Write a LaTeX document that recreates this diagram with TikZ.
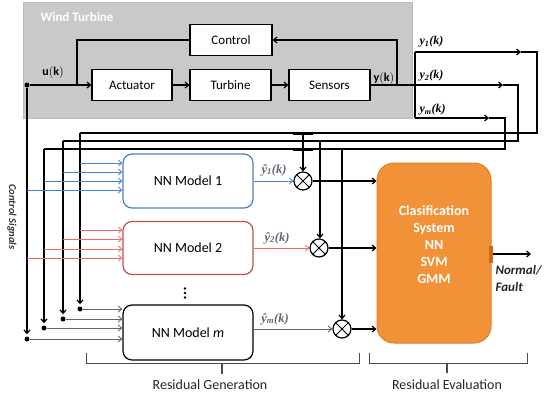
\documentclass[tikz,border=0pt]{standalone}
\usepackage{fontspec}
\setmainfont{Carlito}
\newfontfamily\tms{Liberation Serif}
\usetikzlibrary{arrows.meta,calc}
\definecolor{bbord}{RGB}{79,129,189}
\definecolor{bline}{RGB}{70,130,205}
\definecolor{rbord}{RGB}{192,80,77}
\definecolor{rline}{RGB}{240,105,105}
\definecolor{orfill}{RGB}{242,146,56}
\definecolor{ordraw}{RGB}{222,125,40}
\definecolor{ortab}{RGB}{200,105,30}
\definecolor{hatc}{RGB}{95,100,112}
\begin{document}
\begin{tikzpicture}[x=1pt,y=-1pt,
  wire/.style={line width=1.2pt, black},
  gwire/.style={line width=0.9pt, gray!80!black},
  bwire/.style={line width=0.8pt, bline},
  rwire/.style={line width=0.8pt, rline},
  arr/.style={-{Straight Barb[length=3.5pt,width=6pt]}},
  box/.style={draw, line width=1.2pt, fill=white, minimum height=31pt, inner sep=0, font=\fontsize{13}{15}\selectfont},
  nnbox/.style={draw, line width=1.2pt, fill=white, rounded corners=9pt, minimum width=130pt, inner sep=0, font=\fontsize{14}{16}\selectfont},
  dotn/.style={circle, fill=black, minimum size=5pt, inner sep=0},
  mult/.style={circle, draw, line width=1.2pt, minimum size=18pt, inner sep=0, fill=white,
    path picture={\draw[line width=1pt] (path picture bounding box.south west) -- (path picture bounding box.north east) (path picture bounding box.north west) -- (path picture bounding box.south east);}},
  yl/.style={anchor=west, font=\tms\bfseries\itshape\fontsize{12}{14}\selectfont},
  hl/.style={text=hatc, font=\tms\bfseries\itshape\fontsize{12.5}{14}\selectfont},
  brk/.style={line width=0.8pt, gray!60!black},
  lab/.style={font=\fontsize{14}{16}\selectfont, text=black!85}
]
\useasboundingbox (0,0) rectangle (544,400);

% wind turbine box
\node[draw=gray!55, fill=gray!42, minimum width=389pt, minimum height=116pt, anchor=north west, inner sep=0] (wt) at (23,2) {};
\node[anchor=west, text=white, font=\bfseries\fontsize{13}{15}\selectfont] (wtl) at (37,17) {Wind Turbine};

\node[box, minimum width=82pt] (ctrl) at (231,40) {Control};
\node[box, minimum width=80pt] (act) at (132,85) {Actuator};
\node[box, minimum width=81pt] (turb) at (230.5,85) {Turbine};
\node[box, minimum width=81pt] (sens) at (329.5,85) {Sensors};

\node[font=\fontsize{12}{14}\selectfont] (uk) at (53,72) {$\mathbf{u(k)}$};
\node[font=\fontsize{12}{14}\selectfont] (yk) at (384,78) {$\mathbf{y(k)}$};

\node[dotn] (ud) at (27,85) {};
\coordinate (cj) at (77,85);
\draw[wire] (ctrl.west) -| (cj);
\draw[wire,arr] (ud) -- (act.west);
\draw[wire,arr] (act.east) -- (turb.west);
\draw[wire,arr] (turb.east) -- (sens.west);
\coordinate (yo) at (415,85);
\draw[wire] (sens.east) -- (yo);
\coordinate (fb) at (397,85);
\coordinate (fbt) at (397,50);
\draw[wire,arr] (fb) |- (ctrl.east);
\draw[line width=2.4pt] (fb) -- (fbt);

% output bus
\coordinate (y1s) at (415,52);
\coordinate (yms) at (415,118);
\draw[wire] (y1s) -- (yms);

\node[yl] (y1l) at (416,42) {y\textsubscript{1}(k)};
\node[yl] (y2l) at (416,76) {y\textsubscript{2}(k)};
\node[yl] (yml) at (416,110) {y\textsubscript{m}(k)};

% y1 route
\coordinate (y1a) at (521,52);
\coordinate (y1r) at (537,52);
\coordinate (y1c) at (80,133);
\node[dotn] (d1) at (80,309) {};
\draw[wire,arr] (y1s) -- (y1a);
\draw[wire] (y1a) -- (y1r) |- (y1c);
\draw[wire,arr,shorten >=2pt] (y1c) -- (d1);

% y2 route
\coordinate (y2a) at (503,85);
\coordinate (y2r) at (518,85);
\coordinate (y2c) at (63,141);
\node[dotn] (d2) at (63,319) {};
\draw[wire,arr] (yo) -- (y2a);
\draw[wire] (y2a) -- (y2r) |- (y2c);
\draw[wire,arr,shorten >=2pt] (y2c) -- (d2);

% ym route
\coordinate (yma) at (489,118);
\coordinate (ymr) at (505,118);
\coordinate (ymc) at (44,149);
\node[dotn] (dm) at (44,328) {};
\draw[wire,arr] (yms) -- (yma);
\draw[wire] (yma) -- (ymr) |- (ymc);
\draw[wire,arr,shorten >=2pt] (ymc) -- (dm);

% control signals
\node[dotn] (dc) at (27,339) {};
\draw[wire,arr,shorten >=2pt] (ud) -- (dc);
\node[rotate=-90, font=\bfseries\itshape\fontsize{10.5}{12}\selectfont, text=black!80] (cs) at (12,217) {Control Signals};

% NN models
\node[nnbox, draw=bbord, minimum height=54pt] (nn1) at (188,181) {NN Model 1};
\node[nnbox, draw=rbord, minimum height=53pt] (nn2) at (188,248) {NN Model 2};
\node[nnbox, draw=black, minimum height=55pt] (nnm) at (188,332.5) {NN Model \textit{m}};
\fill (185,288.5) circle (1.4pt) (185,293) circle (1.4pt) (185,297.5) circle (1.4pt);

% inputs NN1 (blue)
\draw[bwire,arr] (y1c |- 0,163) -- (nn1.west |- 0,163);
\draw[bwire,arr] (y2c |- 0,172) -- (nn1.west |- 0,172);
\draw[bwire,arr] (ymc |- 0,181) -- (nn1.west |- 0,181);
\draw[bwire,arr] (ud |- 0,190) -- (nn1.west |- 0,190);
% inputs NN2 (red)
\draw[rwire,arr] (y1c |- 0,230) -- (nn2.west |- 0,230);
\draw[rwire,arr] (y2c |- 0,239) -- (nn2.west |- 0,239);
\draw[rwire,arr] (ymc |- 0,249) -- (nn2.west |- 0,249);
\draw[rwire,arr] (ud |- 0,258) -- (nn2.west |- 0,258);
% inputs NNm (gray)
\draw[gwire,arr] (d1) -- (d1 -| nnm.west);
\draw[gwire,arr] (d2) -- (d2 -| nnm.west);
\draw[gwire,arr] (dm) -- (dm -| nnm.west);
\draw[gwire,arr] (dc) -- (dc -| nnm.west);

% multipliers
\node[mult] (x1) at (303,181) {};
\node[mult] (x2) at (319,248) {};
\node[mult] (xm) at (342,329) {};

\draw[bwire,arr] (nn1.east |- x1) -- (x1.west);
\draw[rwire,arr] (nn2.east |- x2) -- (x2.west);
\draw[gwire,arr] (nnm.east |- xm) -- (xm.west);

\node[hl] (h1) at (274,170) {ŷ\textsubscript{1}(k)};
\node[hl] (h2) at (277,238) {ŷ\textsubscript{2}(k)};
\node[hl] (hm) at (275,319) {ŷ\textsubscript{m}(k)};

% droppers
\coordinate (t1) at (303,133);
\coordinate (t2) at (320,141);
\coordinate (tm) at (342,149);
\draw[wire,arr] (t1) -- (x1.north);
\draw[wire,arr] (t2) -- (t2 |- x2.north);
\draw[wire,arr] (tm) -- (xm.north);
\draw[line width=3pt] (293,133) -- (313,133);
\draw[line width=3pt] (293,149) -- (313,149);

% classifier
\node[draw=ordraw, fill=orfill, line width=1pt, rounded corners=17pt, minimum width=114pt, minimum height=180pt, inner sep=0] (cls) at (434,253) {};
\node[text=white, align=center, font=\bfseries\fontsize{14}{17}\selectfont] (clst) at (434,245) {Clasification\\System\\NN\\SVM\\GMM};

\draw[wire,arr] (x1.east) -- (cls.west |- x1);
\draw[wire,arr] (x2.east) -- (cls.west |- x2);
\draw[wire,arr] (xm.east) -- (cls.west |- xm);
\draw[line width=2.4pt] (342,176) -- (342,196);
\draw[line width=2.4pt] (342,240) -- (342,254);

\node[fill=ortab, minimum width=3.5pt, minimum height=17pt, inner sep=0] (tab) at (491,254) {};
\coordinate (oe) at (531,254);
\draw[wire,arr] (tab.east) -- (oe);
\node[anchor=west, align=left, font=\bfseries\itshape\fontsize{13}{17}\selectfont, text=black!85] (nf) at (492,278) {Normal/\\Fault};

% brackets
\draw[brk] (86,353) -- (86,363) -- (359,363) -- (359,353);
\draw[brk, line width=1.6pt] (222,363) -- (222,374);
\node[lab] (rg) at (210,385) {Residual Generation};
\draw[brk] (369,353) -- (369,363) -- (527,363) -- (527,353);
\draw[brk, line width=1.6pt] (447,363) -- (447,373);
\node[lab] (re) at (447,385) {Residual Evaluation};
\end{tikzpicture}
\end{document}
